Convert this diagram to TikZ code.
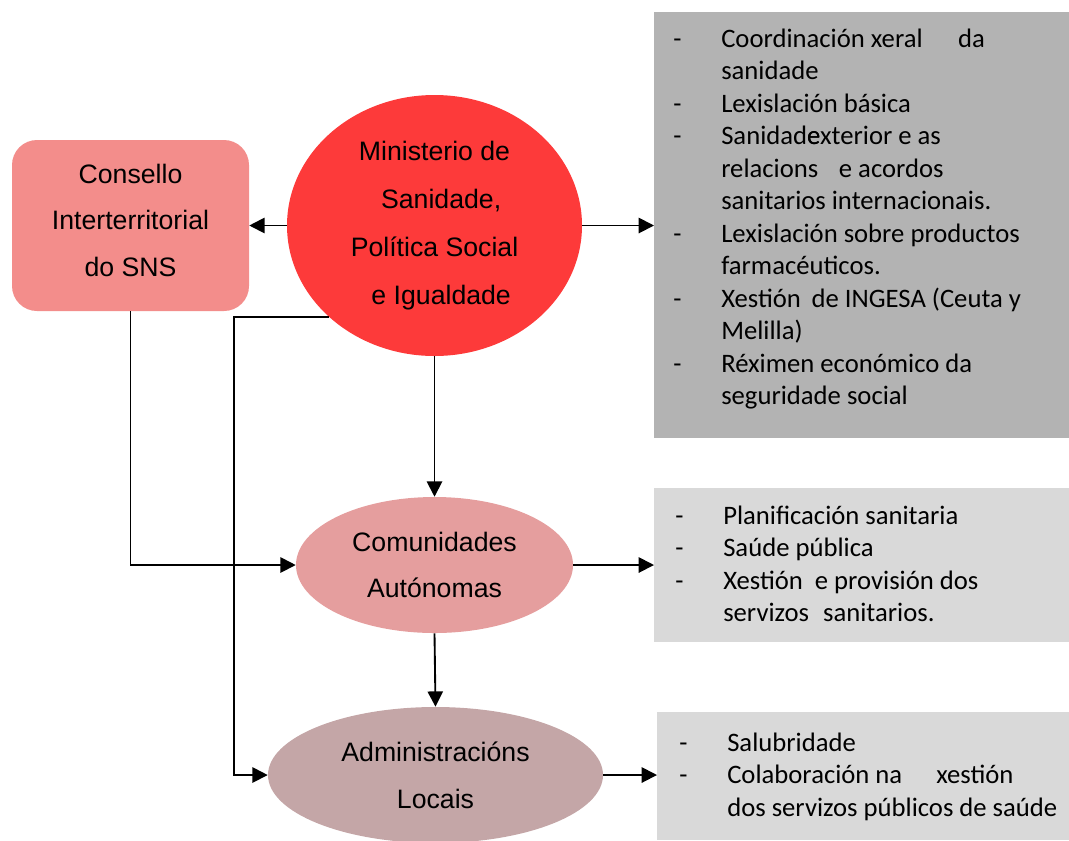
\documentclass[tikz,border=0pt]{standalone}
\usepackage{fontspec}
\setmainfont{Liberation Sans}
\newfontfamily\listfont{Carlito}
\usetikzlibrary{arrows.meta,shapes.geometric,calc}
\definecolor{consfill}{HTML}{F38D8B}
\definecolor{minfill}{HTML}{FD3A3A}
\definecolor{comfill}{HTML}{E59E9E}
\definecolor{admfill}{HTML}{C4A6A7}
\definecolor{darkbox}{HTML}{B3B3B3}
\definecolor{lightbox}{HTML}{D9D9D9}
\tikzset{
  orgtext/.style={font=\fontsize{20pt}{35pt}\selectfont, align=center, text=black},
  oval/.style={ellipse, draw=none, inner sep=0pt, orgtext},
  panel/.style={rectangle, draw=none, inner sep=0pt, anchor=north west},
  listtext/.style={font=\listfont\fontsize{20pt}{24.4pt}\selectfont, align=left, inner sep=0pt, anchor=north west, text=black},
  arr/.style={draw=black, line width=1.4pt, -{Triangle[length=11.5pt,width=11.5pt]}},
}
\newcommand{\dashitem}{\makebox[36pt][l]{-}}
\newcommand{\contitem}{\hspace*{36pt}}
\begin{document}
\begin{tikzpicture}[x=0.75pt,y=-0.75pt]
\useasboundingbox (0,0) rectangle (1069,840);

% panels
\node[panel, fill=darkbox, minimum width=311.25pt, minimum height=319.5pt] (b1) at (654,12) {};
\node[panel, fill=lightbox, minimum width=311.25pt, minimum height=115.5pt] (b2) at (654,488) {};
\node[panel, fill=lightbox, minimum width=309pt, minimum height=96pt] (b3) at (657,712) {};

\node[listtext] (t1) at (673,24) {\strut\dashitem Coordinación xeral\hspace{22pt} da\\
\contitem sanidade\\
\dashitem Lexislación básica\\
\dashitem Sanidade\kern-0.498em exterior e as\\
\contitem relacions\hspace{11pt} e acordos\\
\contitem sanitarios internacionais.\\
\dashitem Lexislación sobre productos\\
\contitem farmacéuticos.\\
\dashitem Xestión\hspace{3.5pt} de INGESA (Ceuta y\\
\contitem Melilla)\\
\dashitem Réximen económico da\\
\contitem seguridade social};

\node[listtext] (t2) at (675,501) {\strut\dashitem Planificación sanitaria\\
\dashitem Saúde pública\\
\dashitem Xestión\hspace{4.5pt} e provisión dos\\
\contitem servizos\hspace{6pt} sanitarios.};

\node[listtext] (t3) at (679,728) {\strut\dashitem Salubridade\\
\dashitem Colaboración na\hspace{21pt} xestión\\
\contitem dos servizos públicos de saúde};

% main shapes
\node[rectangle, rounded corners=18.75pt, fill=consfill, inner sep=0pt,
      minimum width=177.75pt, minimum height=128.25pt, orgtext] (cons) at (130.5,225.5)
      {Consello\\Interterritorial\\do SNS\rule[-8pt]{0pt}{8pt}};
\node[oval, fill=minfill, minimum width=221.25pt, minimum height=195.75pt,
      font=\fontsize{20pt}{35.8pt}\selectfont] (min) at (434.5,225.5)
      {Ministerio de\\\hspace*{10pt}Sanidade,\\Política Social\\\hspace*{10pt}e Igualdade};
\node[oval, fill=comfill, minimum width=207.75pt, minimum height=102pt] (com) at (434.5,565)
      {Comunidades\\Autónomas};
\node[oval, fill=admfill, minimum width=251.25pt, minimum height=102pt] (adm) at (435.5,775)
      {Administracións\\Locais};

% connectors
\coordinate (bend) at (234,318);
\draw[arr] (min.west) -- (cons.east |- min.west);
\draw[arr] (min.east) -- (b1.west |- min.east);
\draw[arr] (min.south) -- (com.north);
\draw[arr] (com.east) -- (b2.west |- com.east);
\draw[arr] (com.south) -- (adm.north);
\draw[arr] (adm.east) -- (b3.west |- adm.east);
\draw[arr] (cons.south) |- (com.west);
\draw[arr] (min.221.6) -- (min.221.6 -| bend) |- (adm.west);
\end{tikzpicture}
\end{document}
